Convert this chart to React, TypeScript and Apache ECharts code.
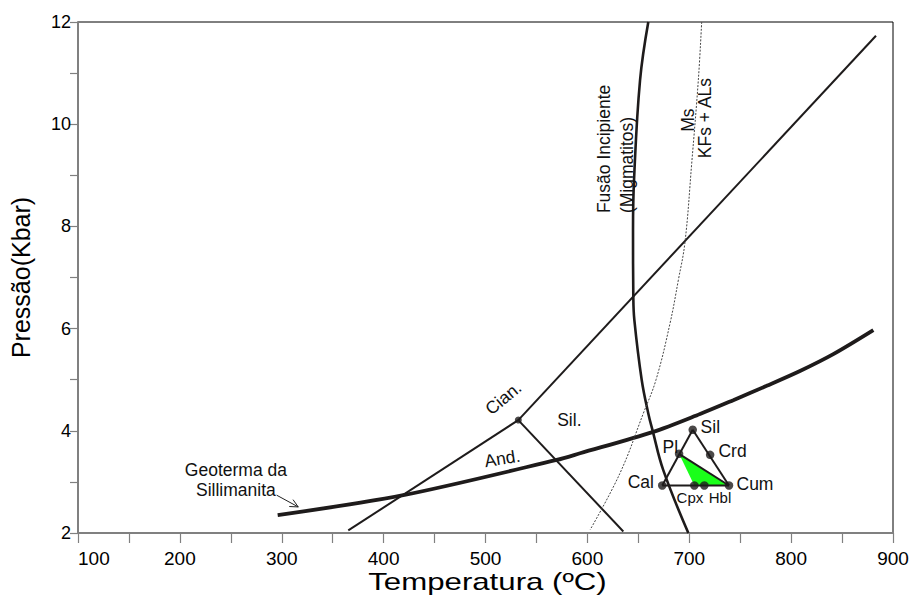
import React, { useEffect, useRef } from "react";
import * as echarts from "echarts";

// ---------- data (Temperature °C, Pressure kbar) ----------
const xMin = 100;
const xMax = 900;
const yMin = 2;
const yMax = 12;

const kyAndLine = [[365.3, 2.05], [532.2, 4.21]];
const kySilLine = [[532.2, 4.21], [883.3, 11.73]];
const andSilLine = [[532.2, 4.21], [635.3, 2.03]];
const triplePoint = [[532.2, 4.21]];

const geothermLine = [
  [296, 2.35], [419.3, 2.74], [569.9, 3.43], [592.8, 3.56], [664.7, 3.98],
  [710.6, 4.33], [743.2, 4.6], [776, 4.88], [808.7, 5.17], [841.4, 5.5], [880.7, 5.97],
];

const fusaoLine = [
  [659.8, 12.0], [651.7, 10.86], [645.8, 8.91], [644.8, 7.93], [645.1, 6.62],
  [646.1, 6.17], [653.3, 5.0], [659.8, 4.34], [664.1, 4.0], [674.5, 3.23], [699.1, 2.0],
];

const msLine = [
  [712.2, 12.0], [708.9, 10.86], [702.4, 9.23], [695.8, 7.69], [689.3, 6.95],
  [681.1, 6.1], [667.4, 5.0], [654.9, 4.34], [632, 3.17], [602.6, 2.06],
];

const mineralNames = ["Sil", "Pl", "Crd", "Cal", "Cpx", "Hbl", "Cum"];
const mineralT = [703.4, 690.0, 720.5, 673.5, 705.0, 714.8, 739.0];
const mineralP = [4.02, 3.55, 3.53, 2.93, 2.93, 2.93, 2.93];

const triangleEdges = [["Cal", "Sil"], ["Sil", "Cum"], ["Cal", "Cum"], ["Pl", "Cum"]];
const greenPhases = ["Pl", "Cpx", "Cum"];

const xTitle = "Temperatura (ºC)";
const yTitle = "Pressão(Kbar)";

// annotations: [text, T, P, rotationDeg, fontSize, align]
const annotations: [string, number, number, number, number, string][] = [
  ["Cian.", 517.5, 4.64, 40, 17.5, "center"],
  ["Sil.", 582.3, 4.22, 0, 17.5, "center"],
  ["And.", 516.5, 3.46, 9, 17.5, "center"],
  ["Geoterma da", 255, 3.23, 0, 17.5, "center"],
  ["Sillimanita", 255, 2.84, 0, 17.5, "center"],
  ["Fusão Incipiente", 616.3, 8.26, 90, 17.5, "left"],
  ["(Migmatitos)", 639.2, 8.26, 90, 17.5, "left"],
  ["Ms", 699.1, 10.08, 90, 17.5, "center"],
  ["KFs + ALs", 715.5, 10.12, 90, 17.5, "center"],
  ["Sil", 720.7, 4.08, 0, 17.5, "center"],
  ["Pl", 681.4, 3.69, 0, 17.5, "center"],
  ["Crd", 742.5, 3.61, 0, 17.5, "center"],
  ["Cal", 652.4, 3.0, 0, 17.5, "center"],
  ["Cum", 764.5, 2.96, 0, 17.5, "center"],
  ["Cpx", 700.7, 2.7, 0, 15, "center"],
  ["Hbl", 730.2, 2.7, 0, 15, "center"],
];

const geothermArrow = [[295.0, 2.74], [316.2, 2.51]];

const FONT = "Liberation Sans, Arial, sans-serif";
const INK = "#1e1b1b";

function phase(name: string): number[] {
  const i = mineralNames.indexOf(name);
  return [mineralT[i], mineralP[i]];
}

export default function App() {
  const ref = useRef<HTMLDivElement>(null);

  useEffect(() => {
    if (!ref.current) return;
    const chart = echarts.init(ref.current, null, { renderer: "svg" });

    const lineSeries = (data: number[][], width: number, extra: any = {}) => ({
      type: "line",
      data,
      showSymbol: false,
      symbol: "none",
      silent: true,
      clip: false,
      lineStyle: { color: INK, width, ...(extra.lineStyle || {}) },
      smooth: extra.smooth || false,
      z: extra.z || 3,
    });

    const series: any[] = [
      {
        type: "custom",
        coordinateSystem: "cartesian2d",
        silent: true,
        clip: false,
        z: 2,
        data: [phase(greenPhases[0])],
        renderItem: (_params: any, api: any) => ({
          type: "polygon",
          shape: { points: greenPhases.map((n) => api.coord(phase(n))) },
          style: { fill: "#1aff1a", stroke: "none" },
        }),
      },
      lineSeries(kyAndLine, 2),
      lineSeries(kySilLine, 2),
      lineSeries(andSilLine, 2),
      lineSeries(geothermLine, 3.8, { smooth: 0.3 }),
      lineSeries(fusaoLine, 2.6, { smooth: 0.4 }),
      lineSeries(msLine, 1, { smooth: 0.4, lineStyle: { type: [2, 1.5], color: "#444" } }),
      ...triangleEdges.map((e) => lineSeries([phase(e[0]), phase(e[1])], 2)),
      {
        type: "scatter",
        data: mineralNames.map((n) => phase(n)),
        symbol: "circle",
        symbolSize: 8.5,
        itemStyle: { color: INK },
        silent: true,
        z: 5,
      },
      {
        type: "scatter",
        data: triplePoint,
        symbol: "circle",
        symbolSize: 7,
        itemStyle: { color: INK },
        silent: true,
        z: 5,
      },
    ];

    chart.setOption({
      animation: false,
      backgroundColor: "#ffffff",
      grid: {
        left: 78,
        right: 19,
        top: 22,
        bottom: 64,
        show: true,
        containLabel: false,
        outerBoundsMode: "none",
        borderColor: "#000",
        borderWidth: 1,
        backgroundColor: "transparent",
      },
      xAxis: {
        type: "value",
        min: xMin,
        max: xMax,
        interval: 100,
        axisLine: { show: true, onZero: false, lineStyle: { color: "#808080", width: 2 } },
        axisTick: { show: true, inside: false, length: 10, lineStyle: { color: "#808080", width: 1.2 } },
        minorTick: { show: true, splitNumber: 2, length: 10, lineStyle: { color: "#808080", width: 1.2 } },
        splitLine: { show: false },
        axisLabel: {
          fontFamily: FONT,
          fontSize: 19,
          color: "#000",
          margin: 16,
          alignMinLabel: "left",
          alignMaxLabel: "center",
        },
      },
      yAxis: {
        type: "value",
        min: yMin,
        max: yMax,
        interval: 2,
        name: yTitle,
        nameLocation: "middle",
        nameGap: 45,
        nameTextStyle: { fontFamily: FONT, fontSize: 25, color: "#000" },
        axisLine: { show: true, onZero: false, lineStyle: { color: "#808080", width: 2 } },
        axisTick: { show: true, inside: false, length: 8, lineStyle: { color: "#808080", width: 1.2 } },
        minorTick: { show: true, splitNumber: 2, length: 8, lineStyle: { color: "#808080", width: 1.2 } },
        splitLine: { show: false },
        axisLabel: { fontFamily: FONT, fontSize: 18, color: "#000", margin: 7 },
      },
      series,
    });

    const toPx = (pt: number[]) => chart.convertToPixel({ gridIndex: 0 }, pt) as number[];

    const graphics: any[] = annotations.map(([text, t, p, rot, size, align]) => {
      const [x, y] = toPx([t, p]);
      return {
        type: "text",
        x,
        y,
        rotation: (rot * Math.PI) / 180,
        z: 10,
        silent: true,
        style: {
          text,
          font: `${size}px ${FONT}`,
          fill: "#111",
          textAlign: align,
          align,
          textVerticalAlign: "middle",
          verticalAlign: "middle",
        },
      };
    });

    // x-axis title (wide lettering as in the original)
    const xLeft = toPx([xMin, yMin]);
    const xRight = toPx([xMax, yMin]);
    graphics.push({
      type: "text",
      x: (xLeft[0] + xRight[0]) / 2 + 2,
      y: xLeft[1] + 49,
      scaleX: 1.3,
      z: 10,
      silent: true,
      style: {
        text: xTitle,
        font: `24px ${FONT}`,
        fill: "#000",
        textAlign: "center",
        align: "center",
        textVerticalAlign: "middle",
        verticalAlign: "middle",
      },
    });

    const [a0, a1] = geothermArrow.map(toPx);
    const ang = Math.atan2(a1[1] - a0[1], a1[0] - a0[0]);
    const wing = 9;
    const spread = 0.45;
    graphics.push({
      type: "line",
      silent: true,
      z: 10,
      shape: { x1: a0[0], y1: a0[1], x2: a1[0], y2: a1[1] },
      style: { stroke: "#222", lineWidth: 1 },
    });
    graphics.push({
      type: "polyline",
      silent: true,
      z: 10,
      shape: {
        points: [
          [a1[0] - wing * Math.cos(ang - spread), a1[1] - wing * Math.sin(ang - spread)],
          [a1[0], a1[1]],
          [a1[0] - wing * Math.cos(ang + spread), a1[1] - wing * Math.sin(ang + spread)],
        ],
      },
      style: { stroke: "#222", lineWidth: 1, fill: "none" },
    });

    chart.setOption({ graphic: { elements: graphics } });

    return () => chart.dispose();
  }, []);

  return <div ref={ref} style={{ width: 912, height: 597, position: "absolute", left: 0, top: 0 }} />;
}
